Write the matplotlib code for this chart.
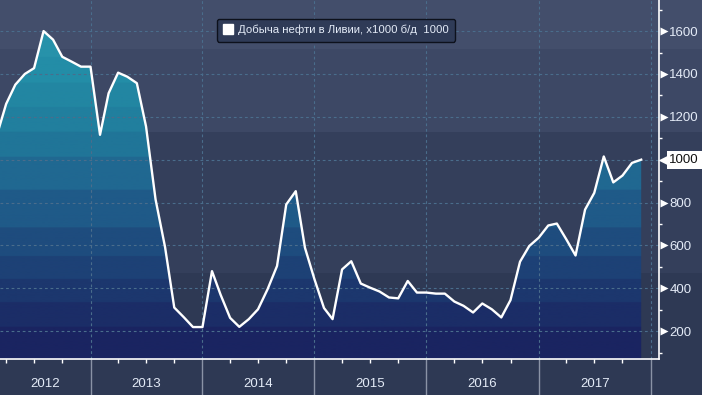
import numpy as np
import pandas as pd
import matplotlib
matplotlib.use("Agg")
from matplotlib import pyplot as plt
import matplotlib.dates as mdates
from matplotlib.colors import ListedColormap, BoundaryNorm
from matplotlib.lines import Line2D
from matplotlib.transforms import ScaledTranslation

plt.rcParams["font.family"] = ["Liberation Sans", "DejaVu Sans"]

# Libya oil output, thousand barrels per day, monthly (Mar 2012 .. Dec 2017)
months = pd.date_range("2012-03-01", "2017-12-01", freq="MS")
output = [
    1110, 1260, 1350, 1400, 1427, 1600, 1560, 1480, 1457, 1434,               # 2012
    1434, 1116, 1310, 1406, 1387, 1357, 1155, 815, 592, 310, 265, 219,        # 2013
    219, 480, 370, 262, 220, 256, 302, 395, 504, 791, 853, 589,               # 2014
    442, 308, 256, 488, 526, 422, 403, 385, 357, 353, 434, 380,               # 2015
    380, 375, 375, 338, 318, 287, 329, 302, 264, 345, 524, 597,               # 2016
    636, 693, 702, 628, 553, 767, 845, 1015, 894, 926, 985, 1000,             # 2017
]
years = [2012, 2013, 2014, 2015, 2016, 2017]
label = "Добыча нефти в Ливии, х1000 б/д"

x_lo, x_hi = pd.Timestamp("2012-03-12"), pd.Timestamp("2018-01-28")
y_lo, y_hi = 70, 1745

txt = "#e4ebf7"
fs = 9.5

fig = plt.figure(figsize=(7.02, 3.95), dpi=100)

# banded background behind everything
bg = fig.add_axes([0, 0, 1, 1], zorder=-1)
bg.set_xlim(0, 1)
bg.set_ylim(395, 0)
bg.axis("off")
for top, bot, c in [(0, 49, "#434e6b"), (49, 132, "#3d4865"),
                    (132, 273, "#343f5b"), (273, 395, "#2e3954")]:
    bg.axhspan(top, bot, color=c, lw=0)

ax = fig.add_axes([0, 36 / 395, 659 / 702, 359 / 395])
ax.set_facecolor("none")

# gradient fill under the line, clipped to the area polygon
band_edges = [y_lo, 219, 335, 442, 549, 684, 860, 1014, 1130, 1246, 1360, 1480, 1600, y_hi]
band_cols = ["#1a2461", "#1b2d67", "#1c376e", "#1d4176", "#1e4c7e", "#1f5a88",
             "#206891", "#207598", "#217f9e", "#2286a2", "#238da7", "#2792aa", "#2a96ad"]
poly = ax.fill_between(months, output, y_lo, color="none", lw=0)
grad = np.linspace(y_lo, y_hi, 600)[:, None]
xd = mdates.date2num([months[0], months[-1]])
im = ax.imshow(grad, extent=[xd[0], xd[1], y_lo, y_hi], origin="lower", aspect="auto",
               cmap=ListedColormap(band_cols), norm=BoundaryNorm(band_edges, len(band_cols)),
               zorder=1)
im.set_clip_path(poly.get_paths()[0], transform=ax.transData)

ax.plot(months, output, color="white", lw=1.7, zorder=4)

ax.set_xlim(x_lo, x_hi)
ax.set_ylim(y_lo, y_hi)

# grid
year_starts = [pd.Timestamp(f"{y}-01-01") for y in range(2013, 2019)]
for d in year_starts:
    ax.axvline(d, color="#4a6d8c", lw=0.8, ls=(0, (2.5, 2.5)), zorder=2)
for v in range(200, 1601, 200):
    ax.axhline(v, color="#4a6d8c", lw=0.8, ls=(0, (2.5, 2.5)), zorder=2)

# spines
for s in ("left", "top"):
    ax.spines[s].set_visible(False)
for s in ("right", "bottom"):
    ax.spines[s].set_color("white")
    ax.spines[s].set_linewidth(1.2)

# x axis: long grey separators at year starts, short white quarter ticks
ax.set_xticks(year_starts)
ax.set_xticklabels([])
ax.tick_params(axis="x", which="major", length=27, width=1, color="#8a93a6")
quarters = [d for d in pd.date_range("2012-04-01", "2018-01-01", freq="QS") if d.month != 1]
ax.set_xticks(quarters, minor=True)
ax.tick_params(axis="x", which="minor", length=3, width=1, color="white")
for y in years:
    a = max(pd.Timestamp(f"{y}-01-01"), x_lo)
    b = min(pd.Timestamp(f"{y + 1}-01-01"), x_hi)
    mid = mdates.date2num(a + (b - a) / 2)
    ax.annotate(str(y), xy=(mid, 0), xycoords=ax.get_xaxis_transform(),
                xytext=(0, -18), textcoords="offset points",
                ha="center", va="center", color=txt, fontsize=fs)

# y axis on the right
last = output[-1]
ax.yaxis.tick_right()
yt = list(range(200, 1601, 200))
ax.set_yticks(yt)
ax.set_yticklabels(["" if v == last else str(v) for v in yt])
ax.tick_params(axis="y", which="major", length=0, pad=7.5, labelcolor=txt, labelsize=fs)
ax.set_yticks(range(100, 1701, 200), minor=True)
ax.tick_params(axis="y", which="minor", length=2.5, width=1, color="white")

tri = ax.get_yaxis_transform() + ScaledTranslation(3.3 / 72, 0, fig.dpi_scale_trans)
ax.plot([1] * (len(yt) - 1), [v for v in yt if v != last], ls="none", marker=">",
        ms=6, color="white", mec="none", transform=tri, clip_on=False, zorder=5)

# last value tag
tag = ax.get_yaxis_transform() + ScaledTranslation(4.5 / 72, 0, fig.dpi_scale_trans)
ax.plot([1], [last], ls="none", marker="<", ms=10, color="white", mec="none",
        transform=tag, clip_on=False, zorder=5)
ax.annotate(f"{last}", xy=(1, last), xycoords=ax.get_yaxis_transform(),
            xytext=(7.5, 0), textcoords="offset points", ha="left", va="center",
            fontsize=fs, color="#111111", zorder=6,
            bbox=dict(boxstyle="square,pad=0.22", fc="white", ec="none"))

# legend
handle = Line2D([], [], ls="none", marker="s", ms=7, color="white", mec="white")
leg = ax.legend([handle], [f"{label}  {last}"], loc="center", bbox_to_anchor=(0.51, 0.916),
                fontsize=8.2, labelcolor=txt, frameon=True, fancybox=True,
                handlelength=0.8, handletextpad=0.5, borderpad=0.55, borderaxespad=0)
fr = leg.get_frame()
fr.set_facecolor("#2f3b57")
fr.set_edgecolor("#0d111c")
fr.set_alpha(1)
fr.set_linewidth(1)
leg.set_zorder(10)

fig.savefig("out.png", dpi=100, facecolor="#2e3954")
